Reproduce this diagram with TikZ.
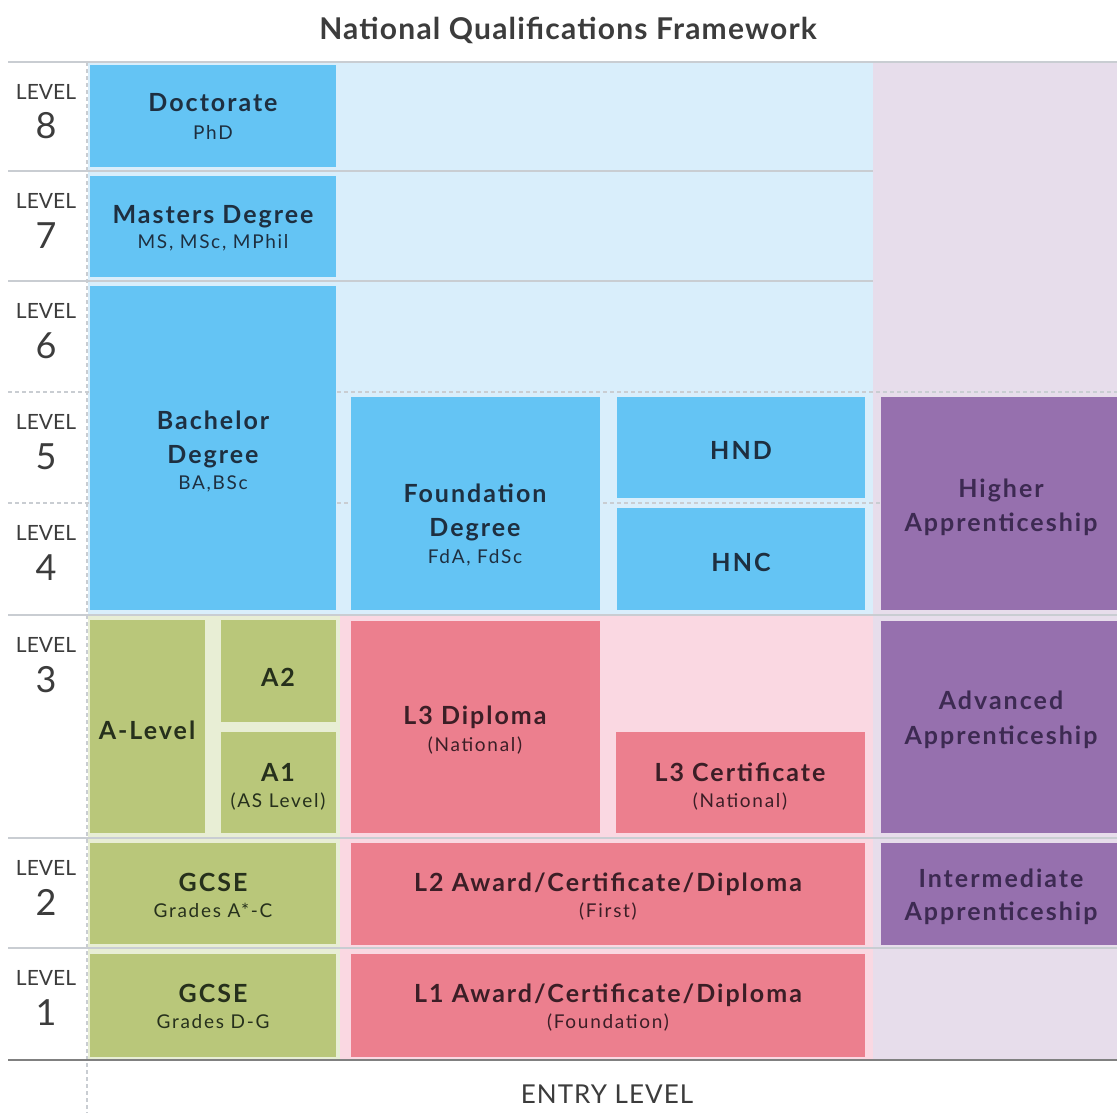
\documentclass[tikz,border=0pt]{standalone}
\usepackage{fontspec}
\setmainfont{Lato}
\newfontfamily\headfont{Lato}[LetterSpace=8]
\newfontfamily\subfont{Lato}[LetterSpace=9]
\newfontfamily\titlefont{Lato}[LetterSpace=4]

\definecolor{qblue}{HTML}{64C4F4}
\definecolor{qbluebg}{HTML}{D9EEFB}
\definecolor{qlav}{HTML}{E7DDEB}
\definecolor{qpurple}{HTML}{9670AE}
\definecolor{qpink}{HTML}{EC7F8E}
\definecolor{qpinkbg}{HTML}{FAD8E2}
\definecolor{qgreen}{HTML}{B9C77A}
\definecolor{qgreenbg}{HTML}{E8EED5}
\definecolor{qline}{HTML}{C9CDD2}
\definecolor{qnavy}{HTML}{1E2F40}
\definecolor{qolive}{HTML}{26301C}
\definecolor{qwine}{HTML}{3B1E26}
\definecolor{qplum}{HTML}{3D2A52}
\definecolor{qgray}{HTML}{3C3C3C}

\tikzset{
  box/.style={rectangle,inner sep=0,outer sep=0,anchor=north west},
  boxsize/.style 2 args={minimum width=#1,minimum height=#2},
  head/.style={inner sep=0,text height=18,text depth=0,
    font=\headfont\fontsize{25}{28}\selectfont\bfseries},
  sub/.style={inner sep=0,text height=14,text depth=0,
    font=\subfont\fontsize{19}{22}\selectfont},
  levtext/.style={inner sep=0,text height=15,text depth=0,text=qgray,
    font=\fontsize{21}{24}\selectfont},
  levnum/.style={inner sep=0,text height=26,text depth=0,text=qgray,
    font=\fontsize{36}{40}\selectfont},
  thinline/.style={qline,line width=1.3},
  dashline/.style={qline,line width=1.3,dash pattern=on 4pt off 3pt}
}

\begin{document}
\begin{tikzpicture}[x=1pt,y=-1pt]

  \useasboundingbox (0,0) rectangle (1117,1113);
  \fill[white] (0,0) rectangle (1117,1113);

  % colour zones
  \fill[qbluebg]  (88,62)   rectangle (873,615);
  \fill[qlav]     (873,62)  rectangle (1117,1060);
  \fill[qgreenbg] (88,615)  rectangle (340,1060);
  \fill[qpinkbg]  (340,615) rectangle (873,1060);

  % level rules
  \draw[thinline] (8,62)  -- (1117,62);
  \draw[thinline] (8,171) -- (873,171);
  \draw[thinline] (8,281) -- (873,281);
  \draw[dashline] (8,392) -- (1117,392);
  \draw[dashline] (8,503) -- (1117,503);
  \draw[thinline] (8,615) -- (1117,615);
  \draw[thinline] (8,838) -- (1117,838);
  \draw[thinline] (8,948) -- (1117,948);
  \draw[dashline] (87,62) -- (87,1113);
  \draw[gray,line width=1.5] (8,1060) -- (1117,1060);

  \node[font=\titlefont\fontsize{30}{34}\selectfont\bfseries,text=qgray,
    inner sep=0,text height=21,text depth=0]
    (title) at (568,29) {National Qualifications Framework};

  \foreach \lev/\top in {8/62,7/171,6/281,5/392,4/503,3/615,2/838,1/948} {
    \node[levtext] (lev\lev) at (46,\top+30) {LEVEL};
    \node[levnum]  (num\lev) at (46,\top+64) {\lev};
  }

  % higher education
  \begin{scope}[every node/.style={box,fill=qblue}]
    \node[boxsize={246}{102}] (doctorate)  at (90,65)  {};
    \node[boxsize={246}{101}] (masters)    at (90,176) {};
    \node[boxsize={246}{324}] (bachelor)   at (90,286) {};
    \node[boxsize={249}{213}] (foundation) at (351,397) {};
    \node[boxsize={248}{101}] (hnd)        at (617,397) {};
    \node[boxsize={248}{102}] (hnc)        at (617,508) {};
  \end{scope}

  \begin{scope}[every node/.style={text=qnavy}]
    \node[head] (doctoratet) at (213,103) {Doctorate};
    \node[sub]  (doctorates) at (213,133) {PhD};
    \node[head] (masterst)   at (213,214) {Masters Degree};
    \node[sub]  (masterss)   at (213,241) {MS, MSc, MPhil};
    \node[head] (bachelort)  at (213,420) {Bachelor};
    \node[head] (bachelord)  at (213,454) {Degree};
    \node[sub]  (bachelors)  at (213,482) {BA,BSc};
    \node[head] (foundt)     at (475,493) {Foundation};
    \node[head] (foundd)     at (475,527) {Degree};
    \node[sub]  (founds)     at (475,556) {FdA, FdSc};
    \node[head] (hndt)       at (741,450) {HND};
    \node[head] (hnct)       at (741,562) {HNC};
  \end{scope}

  % school
  \begin{scope}[every node/.style={box,fill=qgreen}]
    \node[boxsize={115}{213}] (alevel) at (90,620)  {};
    \node[boxsize={115}{102}] (atwo)   at (221,620) {};
    \node[boxsize={115}{101}] (aone)   at (221,732) {};
    \node[boxsize={246}{101}] (gcsetwo) at (90,843) {};
    \node[boxsize={246}{103}] (gcseone) at (90,954) {};
  \end{scope}

  \begin{scope}[every node/.style={text=qolive}]
    \node[head] (alevelt)  at (147,730) {A-Level};
    \node[head] (atwot)    at (278,677) {A2};
    \node[head] (aonet)    at (278,772) {A1};
    \node[sub]  (aones)    at (278,800) {(AS Level)};
    \node[head] (gcsetwot) at (213,882) {GCSE};
    \node[sub]  (gcsetwos) at (213,910) {Grades A*-C};
    \node[head] (gcseonet) at (213,993) {GCSE};
    \node[sub]  (gcseones) at (213,1021) {Grades D-G};
  \end{scope}

  % vocational
  \begin{scope}[every node/.style={box,fill=qpink}]
    \node[boxsize={249}{212}] (ldip)  at (351,621) {};
    \node[boxsize={249}{101}] (lcert) at (616,732) {};
    \node[boxsize={514}{102}] (ltwo)  at (351,843) {};
    \node[boxsize={514}{103}] (lone)  at (351,954) {};
  \end{scope}

  \begin{scope}[every node/.style={text=qwine}]
    \node[head] (ldipt)  at (475,715) {L3 Diploma};
    \node[sub]  (ldips)  at (475,744) {(National)};
    \node[head] (lcertt) at (740,772) {L3 Certificate};
    \node[sub]  (lcerts) at (740,800) {(National)};
    \node[head] (ltwot)  at (608,882) {L2 Award/Certificate/Diploma};
    \node[sub]  (ltwos)  at (608,910) {(First)};
    \node[head] (lonet)  at (608,993) {L1 Award/Certificate/Diploma};
    \node[sub]  (lones)  at (608,1021) {(Foundation)};
  \end{scope}

  % apprenticeships
  \begin{scope}[every node/.style={box,fill=qpurple}]
    \node[boxsize={236}{213}] (higher)   at (881,397) {};
    \node[boxsize={236}{212}] (advanced) at (881,621) {};
    \node[boxsize={236}{102}] (interm)   at (881,843) {};
  \end{scope}

  \begin{scope}[every node/.style={text=qplum}]
    \node[head] (highert)   at (1001,488) {Higher};
    \node[head] (highera)   at (1001,522) {Apprenticeship};
    \node[head] (advancedt) at (1001,700) {Advanced};
    \node[head] (advanceda) at (1001,735) {Apprenticeship};
    \node[head] (intermt)   at (1001,878) {Intermediate};
    \node[head] (interma)   at (1001,911) {Apprenticeship};
  \end{scope}

  \node[text=qgray,inner sep=0,text height=18,text depth=0,
    font=\titlefont\fontsize{26}{30}\selectfont] (entry) at (607,1094) {ENTRY LEVEL};

\end{tikzpicture}
\end{document}
